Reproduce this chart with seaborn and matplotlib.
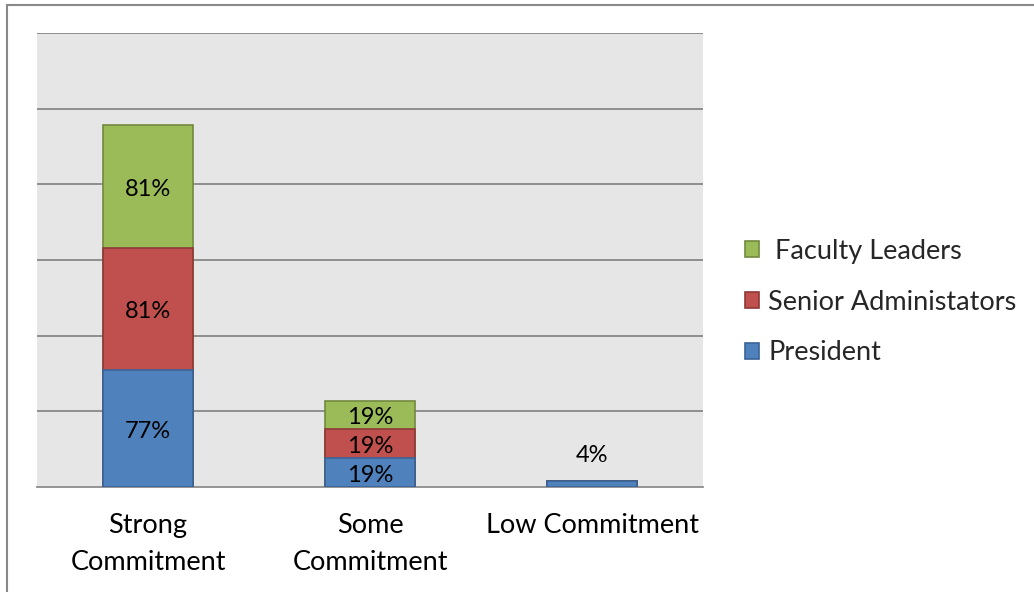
import matplotlib
matplotlib.use("Agg")
import matplotlib.pyplot as plt
from matplotlib.patches import Patch, Rectangle
import numpy as np
import pandas as pd
import seaborn as sns

categories = ["Strong\nCommitment", "Some\nCommitment", "Low Commitment"]
president = [77, 19, 4]
senior_admin = [81, 19, 0]
faculty = [81, 19, 0]
series_names = ["Faculty Leaders", "Senior Administators", "President"]

fills = {"President": "#4F81BD", "Senior Administators": "#C0504D", "Faculty Leaders": "#9BBB59"}
edges = {"President": "#3A6496", "Senior Administators": "#8E3A38", "Faculty Leaders": "#71893F"}

sns.set_theme(style="white")
plt.rcParams["font.family"] = ["Lato", "DejaVu Sans"]

fig = plt.figure(figsize=(10.34, 5.92), dpi=100)
ax = fig.add_axes([37 / 1034, 1 - 487 / 592, (703 - 37) / 1034, (487 - 33) / 592])
ax.set_facecolor("#E6E6E6")

p = np.array(president)
s = np.array(senior_admin)
f = np.array(faculty)
layers = [
    ("Faculty Leaders", p + s + f),
    ("Senior Administators", p + s),
    ("President", p),
]
bar_w = 0.405
for name, tops in layers:
    df = pd.DataFrame({"cat": categories, "val": tops})
    sns.barplot(data=df, x="cat", y="val", color=fills[name], saturation=1,
                width=bar_w, edgecolor=edges[name], linewidth=1.2, ax=ax, zorder=3)

# segment labels, centred in each stacked segment
bottoms = np.zeros(3)
for vals in (p, s, f):
    for i, v in enumerate(vals):
        if v > 0 and i < 2:
            ax.annotate(f"{v}%", xy=(i, bottoms[i] + v / 2), xytext=(0, -2),
                        textcoords="offset points", ha="center", va="center",
                        fontsize=17, color="black", zorder=5)
    bottoms = bottoms + vals
ax.annotate(f"{president[2]}%", xy=(2, president[2]), xytext=(0, 18),
            textcoords="offset points", ha="center", va="center",
            fontsize=17, color="black")

ax.set_xlim(-0.5, 2.5)
ax.set_ylim(0, 300)
ax.set_yticks(np.arange(50, 301, 50))
ax.set_yticklabels([])
ax.yaxis.grid(True, color="#878787", linewidth=1.3, zorder=0)
ax.set_axisbelow(True)
ax.tick_params(axis="y", length=0)
ax.set_xlabel("")
ax.set_ylabel("")

ax.set_xticks([0, 1, 2])
ax.set_xticklabels(categories, fontsize=19.5, linespacing=1.6)
ax.tick_params(axis="x", which="major", length=0, pad=19, colors="black")
ax.set_xticks([-0.5, 0.5, 1.5, 2.5], minor=True)
ax.tick_params(axis="x", which="minor", length=6, width=1.2, color="#8C8C8C", direction="out")
for t in ax.get_xticklabels():
    t.set_color("black")

for side in ("left", "right", "top"):
    ax.spines[side].set_visible(False)
ax.spines["bottom"].set_color("#8C8C8C")
ax.spines["bottom"].set_linewidth(1.3)

handles = [Patch(facecolor=fills[n], edgecolor=edges[n], linewidth=1.2) for n in series_names]
labels = [" Faculty Leaders", "Senior Administators", "President"]
fig.legend(handles, labels, loc="center left", bbox_to_anchor=(745 / 1034, 1 - 302 / 592),
           frameon=False, fontsize=19.5, handlelength=0.52, handleheight=0.52,
           handletextpad=0.33, labelspacing=0.96, borderpad=0, borderaxespad=0)

fig.patches.append(Rectangle((7 / 1034, -0.1), 2, 1 - 5 / 592 + 0.1, transform=fig.transFigure,
                             fill=False, edgecolor="#898989", linewidth=1.5))

fig.savefig("out.png", dpi=100, facecolor="white")
